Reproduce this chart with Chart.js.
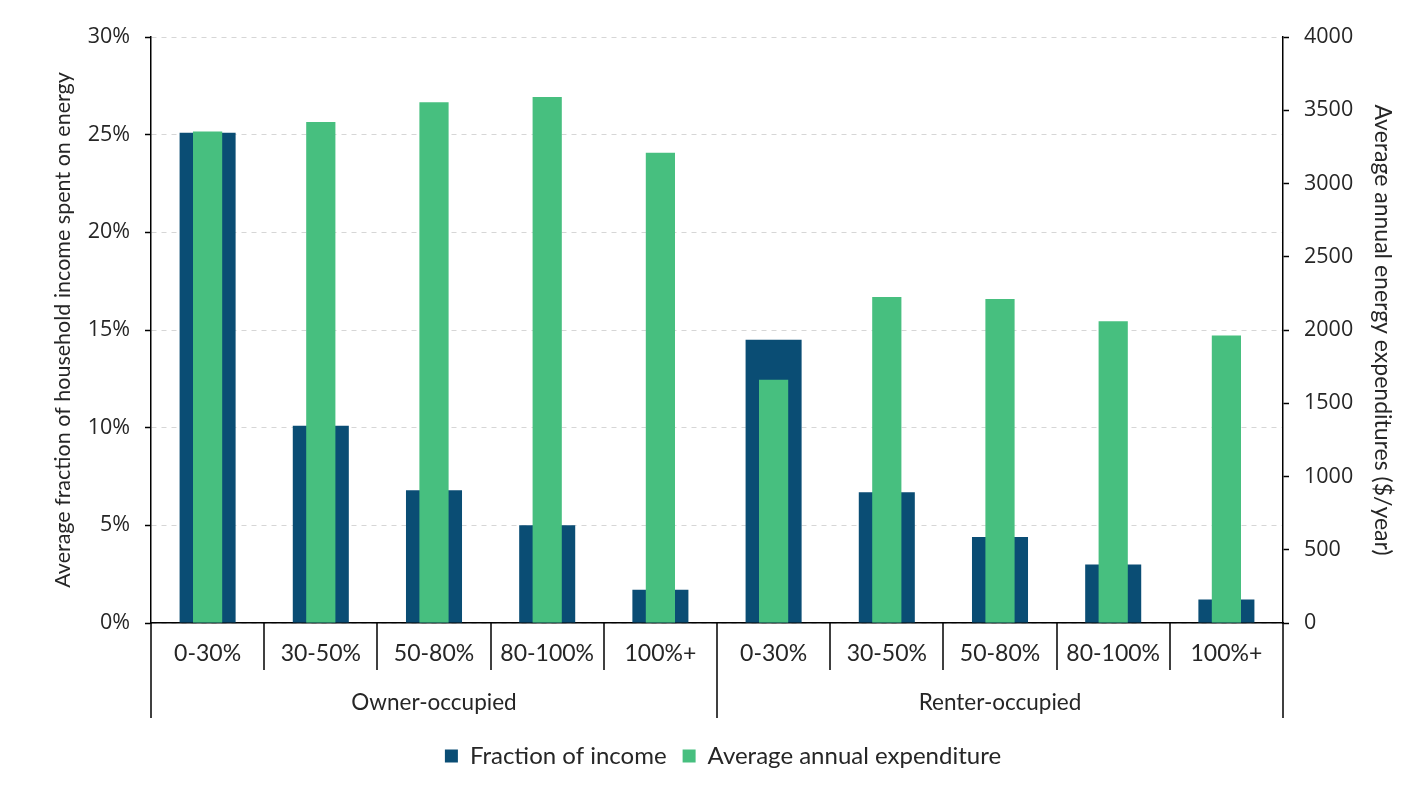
<!DOCTYPE html>
<html>
<head>
<meta charset="utf-8">
<script src="https://cdn.jsdelivr.net/npm/chart.js@4.4.1/dist/chart.umd.min.js"></script>
<style>
  html, body { margin: 0; padding: 0; background: #ffffff; }
  #wrap { width: 1404px; height: 788px; }
</style>
</head>
<body>
<div id="wrap"><canvas id="chart" width="1404" height="788"></canvas></div>
<script>
// Income bands (share of area median income) within each tenure group
const categories = ['0-30%', '30-50%', '50-80%', '80-100%', '100%+',
                    '0-30%', '30-50%', '50-80%', '80-100%', '100%+'];
const groups = ['Owner-occupied', 'Renter-occupied'];
const groupSizes = [5, 5];

// Average fraction of household income spent on energy (%)
const fractionOfIncome = [25.1, 10.1, 6.8, 5.0, 1.7, 14.5, 6.7, 4.4, 3.0, 1.2];
// Average annual energy expenditure ($/year)
const annualExpenditure = [3355, 3420, 3555, 3590, 3210, 1660, 2225, 2212, 2060, 1963];

const percentTicks = [0, 5, 10, 15, 20, 25, 30];
const dollarTicks = [0, 500, 1000, 1500, 2000, 2500, 3000, 3500, 4000];

const DARK = '#0a4d74';
const GREEN = '#47bf7f';
const TEXT = '#262626';
const TICK_FONT = { family: '"Open Sans", sans-serif', size: 21.5 };
const CAT_FONT = { family: 'Lato, sans-serif', size: 23 };
const GROUP_FONT = { family: 'Lato, sans-serif', size: 22.5 };
const LEGEND_FONT = { family: 'Lato, sans-serif', size: 24 };

// Draws the tenure-group row under the income-band labels, with the separators
const groupAxis = {
  id: 'groupAxis',
  afterDraw(chart) {
    const x = chart.scales.x;
    const ctx = chart.ctx;
    const n = categories.length;
    const w = x.getPixelForValue(1) - x.getPixelForValue(0);
    const top = x.top;
    const edges = new Set([0]);
    let acc = 0;
    groupSizes.forEach(s => { acc += s; edges.add(acc); });

    ctx.save();
    ctx.strokeStyle = '#000';
    ctx.lineWidth = 1.5;
    for (let i = 0; i <= n; i++) {
      const px = Math.round(x.getPixelForValue(i) - w / 2);
      const len = edges.has(i) ? 95 : 47;
      ctx.beginPath();
      ctx.moveTo(px, top);
      ctx.lineTo(px, top + len);
      ctx.stroke();
    }
    ctx.fillStyle = TEXT;
    ctx.font = `${GROUP_FONT.size}px ${GROUP_FONT.family}`;
    ctx.textAlign = 'center';
    ctx.textBaseline = 'middle';
    let start = 0;
    groups.forEach((g, k) => {
      const end = start + groupSizes[k] - 1;
      const cx = (x.getPixelForValue(start) + x.getPixelForValue(end)) / 2;
      ctx.fillText(g, cx, top + 80);
      start += groupSizes[k];
    });
    ctx.restore();
  }
};

new Chart(document.getElementById('chart'), {
  type: 'bar',
  data: {
    labels: categories,
    datasets: [
      {
        label: 'Fraction of income',
        data: fractionOfIncome,
        yAxisID: 'y',
        backgroundColor: DARK,
        barPercentage: 0.495,
        categoryPercentage: 1,
        grouped: false,
        order: 1
      },
      {
        label: 'Average annual expenditure',
        data: annualExpenditure,
        yAxisID: 'y1',
        backgroundColor: GREEN,
        barPercentage: 0.258,
        categoryPercentage: 1,
        grouped: false,
        order: 0
      }
    ]
  },
  options: {
    responsive: false,
    animation: false,
    layout: { padding: { left: 50, right: 8, top: 37, bottom: 10 } },
    plugins: {
      tooltip: { enabled: false },
      legend: {
        position: 'bottom',
        labels: {
          sort: (a, b) => a.datasetIndex - b.datasetIndex,
          boxWidth: 13,
          boxHeight: 13,
          padding: 16,
          color: TEXT,
          font: LEGEND_FONT
        }
      }
    },
    scales: {
      x: {
        offset: true,
        grid: { display: false, drawTicks: false },
        border: { display: true, color: '#000', width: 1.5 },
        ticks: { color: TEXT, font: CAT_FONT, padding: 17, maxRotation: 0, autoSkip: false },
        afterFit(scale) { scale.height = 105; }
      },
      y: {
        position: 'left',
        min: 0,
        max: 30,
        afterBuildTicks(scale) { scale.ticks = percentTicks.map(v => ({ value: v })); },
        ticks: { color: TEXT, font: TICK_FONT, padding: 15, callback: v => v + '%' },
        grid: { color: 'rgba(0,0,0,0.16)', lineWidth: 1, drawTicks: true, tickLength: 6, tickColor: '#000', tickWidth: 1.5 },
        border: { display: true, color: '#000', width: 1.5, dash: [5, 5] },
        title: { display: true, text: 'Average fraction of household income spent on energy', color: TEXT, font: { family: 'Lato, sans-serif', size: 21.5 }, padding: { top: 0, bottom: 6 } },
        afterFit(scale) { scale.width = 101; }
      },
      y1: {
        position: 'right',
        min: 0,
        max: 4000,
        afterBuildTicks(scale) { scale.ticks = dollarTicks.map(v => ({ value: v })); },
        ticks: { color: TEXT, font: TICK_FONT, padding: 15, callback: v => String(v) },
        grid: { drawOnChartArea: false, drawTicks: true, tickLength: 6, tickColor: '#000', tickWidth: 1.5 },
        border: { display: true, color: '#000', width: 1.5 },
        title: { display: true, text: 'Average annual energy expenditures ($/year)', color: TEXT, font: { family: 'Lato, sans-serif', size: 23 }, padding: { top: 0, bottom: 6 } },
        afterFit(scale) { scale.width = 113; }
      }
    }
  },
  plugins: [groupAxis]
});
</script>
</body>
</html>
